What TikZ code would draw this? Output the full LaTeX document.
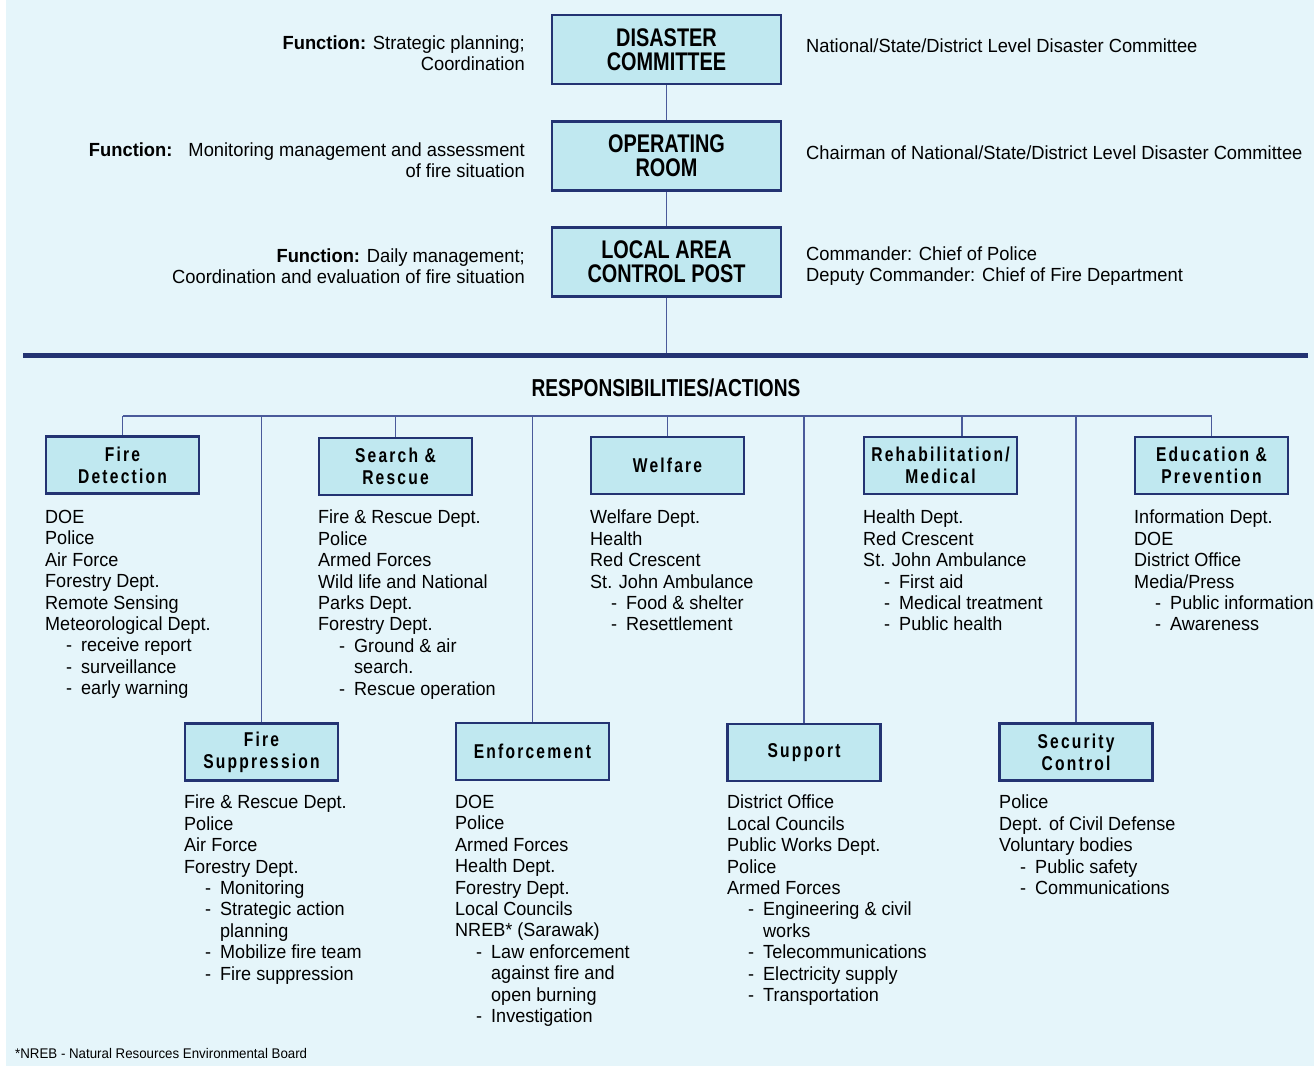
\documentclass[tikz,border=0pt]{standalone}
\usepackage{fontspec}
\setmainfont{Liberation Sans}[FakeStretch=0.95]
\newfontfamily\sidefont{Liberation Sans}[FakeStretch=0.965]
\newfontfamily\condfont{Liberation Sans}[FakeStretch=0.78]
\newfontfamily\boxfont{Liberation Sans}[FakeStretch=0.78,LetterSpace=11]
\definecolor{bgc}{HTML}{E5F5FA}
\definecolor{boxfill}{HTML}{C0E8F0}
\definecolor{navy}{HTML}{233372}
\definecolor{linec}{HTML}{4A5A9A}
\newcommand{\itm}[1]{\hspace*{21pt}\makebox[15pt][l]{-}#1}
\newcommand{\cnt}[1]{\hspace*{36pt}#1}
\tikzset{
  topbox/.style={draw=navy, line width=2.6pt, fill=boxfill, minimum width=229pt, minimum height=69pt,
    align=center, font=\condfont\bfseries\fontsize{25.5}{24}\selectfont, inner sep=0pt},
  actbox/.style={draw=navy, line width=2.6pt, fill=boxfill, minimum width=153pt, minimum height=57pt,
    align=center, font=\boxfont\bfseries\fontsize{20}{22}\selectfont, inner sep=0pt},
  lst/.style={anchor=north west, align=left, inner sep=0pt, font=\fontsize{19}{21.4}\selectfont},
  side/.style={inner sep=0pt, font=\sidefont\fontsize{19}{21}\selectfont},
  conn/.style={draw=linec, line width=1.5pt},
}
\begin{document}
\begin{tikzpicture}[x=1pt,y=-1pt]
\useasboundingbox (0,0) rectangle (1314,1066);
\fill[white] (0,0) rectangle (1314,1066);
\fill[bgc] (6,0) rectangle (1314,1066);

% top chain
\node[topbox] (dc) at (666.5,49.5) {DISASTER\\COMMITTEE};
\node[topbox] (or) at (666.5,156) {OPERATING\\ROOM};
\node[topbox] (la) at (666.5,262) {LOCAL AREA\\CONTROL POST};

\node[side, anchor=east, align=right] (f1) at (525,53) {\textbf{Function:} Strategic planning;\\Coordination};
\node[side, anchor=east, align=right] (f2) at (525,160) {\textbf{Function:}\hspace{16pt}Monitoring management and assessment\\of fire situation};
\node[side, anchor=east, align=right] (f3) at (525,266) {\textbf{Function:} Daily management;\\Coordination and evaluation of fire situation};

\node[side, anchor=west] (r1) at (806,46) {National/State/District Level Disaster Committee};
\node[side, anchor=west] (r2) at (806,153) {Chairman of National/State/District Level Disaster Committee};
\node[side, anchor=west, align=left] (r3) at (806,266) {Commander: Chief of Police\\Deputy Commander: Chief of Fire Department};

\coordinate (rl) at (23,355);
\coordinate (rr) at (1308,355);
\coordinate (lae) at (666.5,353);
\draw[conn] (dc.south) -- (or.north);
\draw[conn] (or.south) -- (la.north);
\draw[conn] (la.south) -- (lae);
\draw[navy, line width=5pt] (rl) -- (rr);

\node[inner sep=0pt, font=\condfont\bfseries\fontsize{24.5}{24}\selectfont] (resp) at (666,388) {RESPONSIBILITIES/ACTIONS};

% action boxes
\node[actbox] (fd) at (122.5,465) {Fire\\Detection};
\node[actbox] (sr) at (395.5,466.5) {Search \&\\Rescue};
\node[actbox] (we) at (667.5,465.5) {Welfare};
\node[actbox] (rm) at (940.5,465.5) {Rehabilitation/\\Medical};
\node[actbox] (ep) at (1211.5,465.5) {Education \&\\Prevention};
\node[actbox] (fs) at (261.5,752) {Fire\\Suppression};
\node[actbox] (en) at (532.5,751.5) {Enforcement};
\node[actbox] (su) at (804,752.5) {Support};
\node[actbox] (sc) at (1076,752) {Security\\Control};

\coordinate (bus) at (0,416);
\coordinate (rmtop) at (962,436);
\draw[conn] (fd.north|-bus) -- (ep.north|-bus);
\foreach \b in {fd,sr,we,ep,fs,en,su,sc}{
  \draw[conn] (\b.north|-bus) -- (\b.north);
}
\draw[conn] (rmtop|-bus) -- (rmtop);

% lists
\node[lst] (l1) at (45,510) {DOE\\Police\\Air Force\\Forestry Dept.\\Remote Sensing\\Meteorological Dept.\\\itm{receive report}\\\itm{surveillance}\\\itm{early warning}};
\node[lst] (l2) at (318,510) {Fire \& Rescue Dept.\\Police\\Armed Forces\\Wild life and National\\Parks Dept.\\Forestry Dept.\\\itm{Ground \& air}\\\cnt{search.}\\\itm{Rescue operation}};
\node[lst] (l3) at (590,510) {Welfare Dept.\\Health\\Red Crescent\\St. John Ambulance\\\itm{Food \& shelter}\\\itm{Resettlement}};
\node[lst] (l4) at (863,510) {Health Dept.\\Red Crescent\\St. John Ambulance\\\itm{First aid}\\\itm{Medical treatment}\\\itm{Public health}};
\node[lst] (l5) at (1134,510) {Information Dept.\\DOE\\District Office\\Media/Press\\\itm{Public information}\\\itm{Awareness}};
\node[lst] (l6) at (184,795) {Fire \& Rescue Dept.\\Police\\Air Force\\Forestry Dept.\\\itm{Monitoring}\\\itm{Strategic action}\\\cnt{planning}\\\itm{Mobilize fire team}\\\itm{Fire suppression}};
\node[lst] (l7) at (455,795) {DOE\\Police\\Armed Forces\\Health Dept.\\Forestry Dept.\\Local Councils\\NREB* (Sarawak)\\\itm{Law enforcement}\\\cnt{against fire and}\\\cnt{open burning}\\\itm{Investigation}};
\node[lst] (l8) at (727,795) {District Office\\Local Councils\\Public Works Dept.\\Police\\Armed Forces\\\itm{Engineering \& civil}\\\cnt{works}\\\itm{Telecommunications}\\\itm{Electricity supply}\\\itm{Transportation}};
\node[lst] (l9) at (999,795) {Police\\Dept. of Civil Defense\\Voluntary bodies\\\itm{Public safety}\\\itm{Communications}};

\node[inner sep=0pt, anchor=west, font=\fontsize{14}{16}\selectfont] (fn) at (15,1053) {*NREB - Natural Resources Environmental Board};
\end{tikzpicture}
\end{document}
